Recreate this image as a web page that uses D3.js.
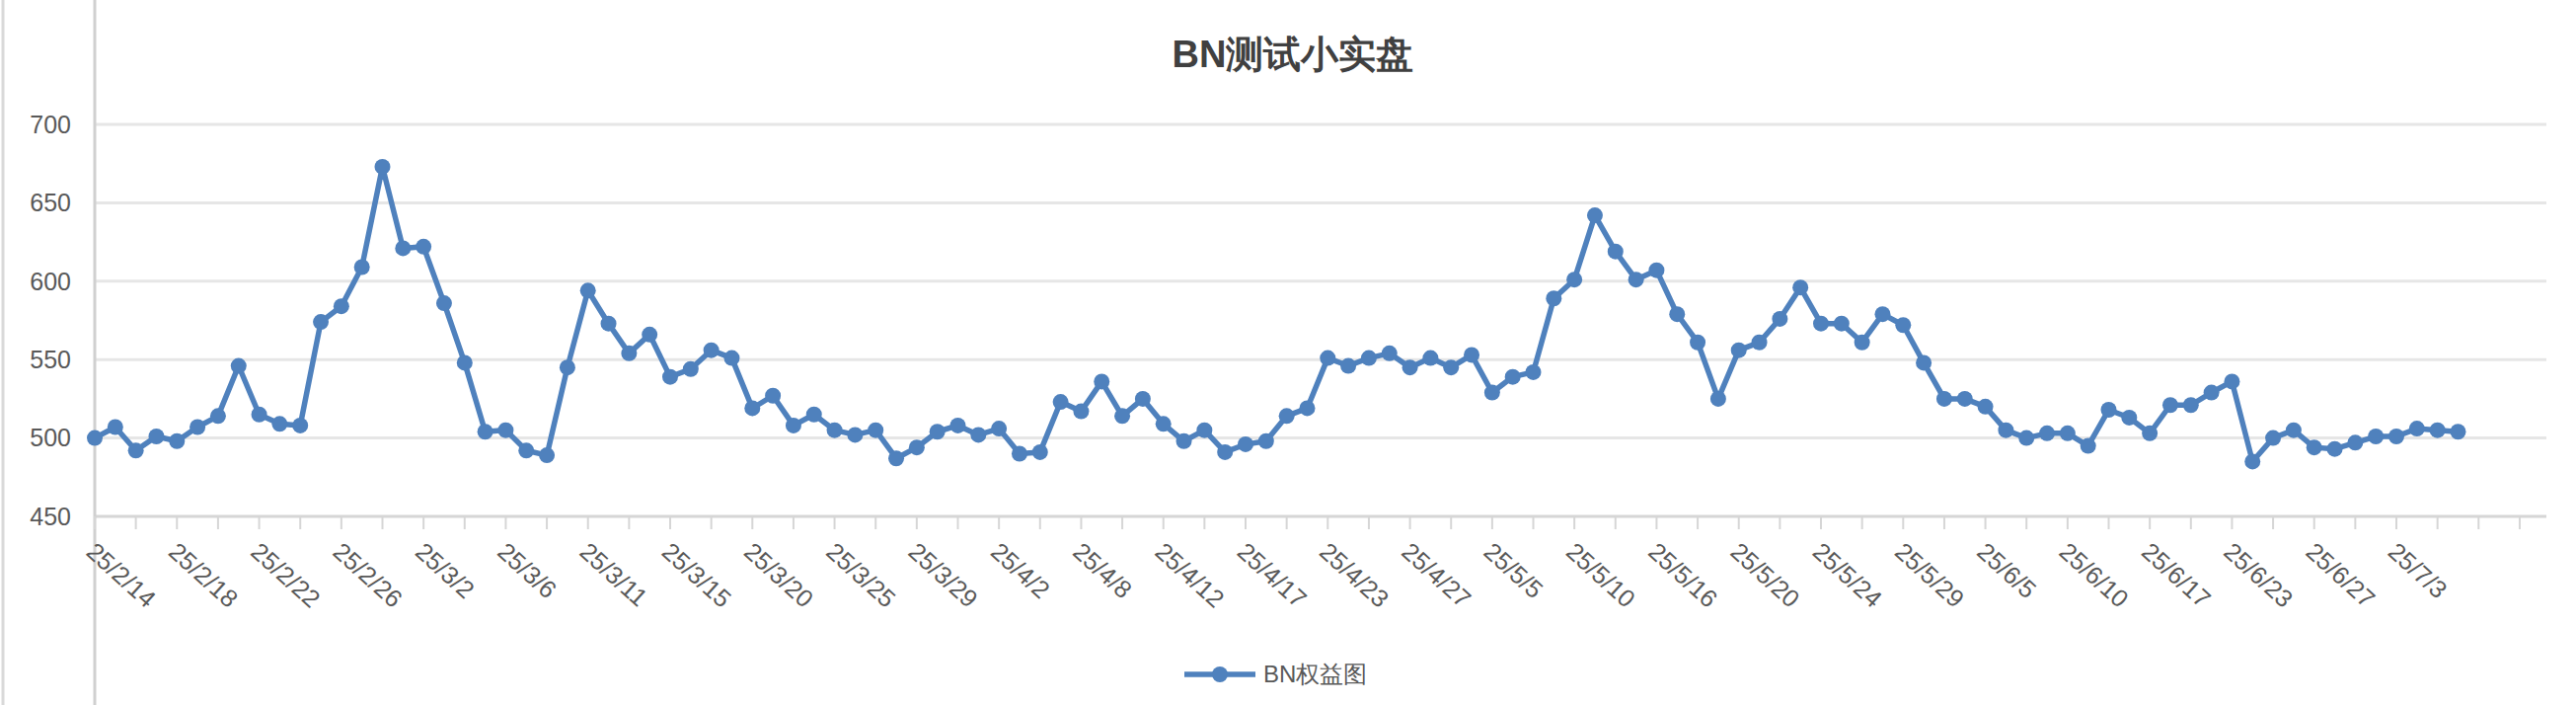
<!DOCTYPE html>
<html><head><meta charset="utf-8">
<script src="https://cdn.jsdelivr.net/npm/d3@7"></script>
<style>body{margin:0;background:#fff}svg{display:block}</style>
</head><body><svg id="c" width="2610" height="714"></svg>
<script>
const dates=["25/2/14","25/2/15","25/2/16","25/2/17","25/2/18","25/2/19","25/2/20","25/2/21","25/2/22","25/2/23","25/2/24","25/2/25","25/2/26","25/2/27","25/2/28","25/3/1","25/3/2","25/3/3","25/3/4","25/3/5","25/3/6","25/3/7","25/3/9","25/3/10","25/3/11","25/3/12","25/3/13","25/3/14","25/3/15","25/3/17","25/3/18","25/3/19","25/3/20","25/3/21","25/3/23","25/3/24","25/3/25","25/3/26","25/3/27","25/3/28","25/3/29","25/3/30","25/3/31","25/4/1","25/4/2","25/4/3","25/4/6","25/4/7","25/4/8","25/4/9","25/4/10","25/4/11","25/4/12","25/4/14","25/4/15","25/4/16","25/4/17","25/4/19","25/4/21","25/4/22","25/4/23","25/4/24","25/4/25","25/4/26","25/4/27","25/4/29","25/5/1","25/5/3","25/5/5","25/5/6","25/5/8","25/5/9","25/5/10","25/5/12","25/5/14","25/5/15","25/5/16","25/5/17","25/5/18","25/5/19","25/5/20","25/5/21","25/5/22","25/5/23","25/5/24","25/5/26","25/5/27","25/5/28","25/5/29","25/5/31","25/6/2","25/6/4","25/6/5","25/6/6","25/6/8","25/6/9","25/6/10","25/6/12","25/6/14","25/6/16","25/6/17","25/6/19","25/6/21","25/6/22","25/6/23","25/6/24","25/6/25","25/6/26","25/6/27","25/6/29","25/7/1","25/7/2","25/7/3","25/7/4","25/7/5","25/7/6"];
const equity=[500,507,492,501,498,507,514,546,515,509,508,574,584,609,673,621,622,586,548,504,505,492,489,545,594,573,554,566,539,544,556,551,519,527,508,515,505,502,505,487,494,504,508,502,506,490,491,523,517,536,514,525,509,498,505,491,496,498,514,519,551,546,551,554,545,551,545,553,529,539,542,589,601,642,619,601,607,579,561,525,556,561,576,596,573,573,561,579,572,548,525,525,520,505,500,503,503,495,518,513,503,521,521,529,536,485,500,505,494,493,497,501,501,506,505,504];
const yTicks=[450,500,550,600,650,700];
const seriesName="BN权益图";
const title="BN测试小实盘";
const axisSlots=119.3;

const svg=d3.select("#c");
const L=96,R=2580,T=126,B=523;
const x=d3.scaleLinear().domain([0,axisSlots]).range([L,R]);
const y=d3.scaleLinear().domain([450,700]).range([B,T]);
const col="#4f81bd",font="'Liberation Sans',Arial,sans-serif";

svg.append("line").attr("x1",3).attr("x2",3).attr("y1",0).attr("y2",714).attr("stroke","#d9d9d9").attr("stroke-width",3);
svg.append("g").selectAll("line").data(yTicks).join("line")
 .attr("x1",L).attr("x2",R).attr("y1",d=>y(d)).attr("y2",d=>y(d))
 .attr("stroke",d=>d===450?"#d6d6d6":"#e6e6e6").attr("stroke-width",3);
svg.append("line").attr("x1",L).attr("x2",L).attr("y1",0).attr("y2",714).attr("stroke","#d0d0d0").attr("stroke-width",3);
svg.append("g").selectAll("text").data(yTicks).join("text")
 .attr("x",L-24).attr("y",d=>y(d)).attr("dy","0.35em").attr("text-anchor","end")
 .attr("font-family",font).attr("font-size",25).attr("fill","#595959").text(d=>d);
const tickIdx=d3.range(0,Math.floor(axisSlots)+1,2);
svg.append("g").selectAll("line").data(tickIdx).join("line")
 .attr("x1",d=>x(d)).attr("x2",d=>x(d)).attr("y1",B).attr("y2",B+13).attr("stroke","#d6d6d6").attr("stroke-width",2);
svg.append("g").selectAll("text").data(dates.map((d,i)=>({d,i})).filter(o=>o.i%4===0)).join("text")
 .attr("transform",o=>`translate(${x(o.i)-10},${B+38}) rotate(42)`)
 .attr("font-family",font).attr("font-size",25).attr("fill","#595959").text(o=>o.d);

const line=d3.line().x((d,i)=>x(i)).y(d=>y(d));
svg.append("path").datum(equity).attr("d",line).attr("fill","none").attr("stroke",col).attr("stroke-width",5.5).attr("stroke-linejoin","round");
svg.append("g").selectAll("circle").data(equity).join("circle")
 .attr("cx",(d,i)=>x(i)).attr("cy",d=>y(d)).attr("r",8).attr("fill",col);

svg.append("text").attr("x",1310).attr("y",68).attr("text-anchor","middle")
 .attr("font-family",font).attr("font-weight","bold").attr("font-size",38).attr("fill","#404040").text(title);
const lg=svg.append("g");
lg.append("line").attr("x1",1200).attr("x2",1272).attr("y1",683).attr("y2",683).attr("stroke",col).attr("stroke-width",5.5);
lg.append("circle").attr("cx",1236).attr("cy",683).attr("r",8).attr("fill",col);
lg.append("text").attr("x",1280).attr("y",683).attr("dy","0.35em").attr("font-family",font).attr("font-size",24).attr("fill","#595959").text(seriesName);
</script></body></html>
